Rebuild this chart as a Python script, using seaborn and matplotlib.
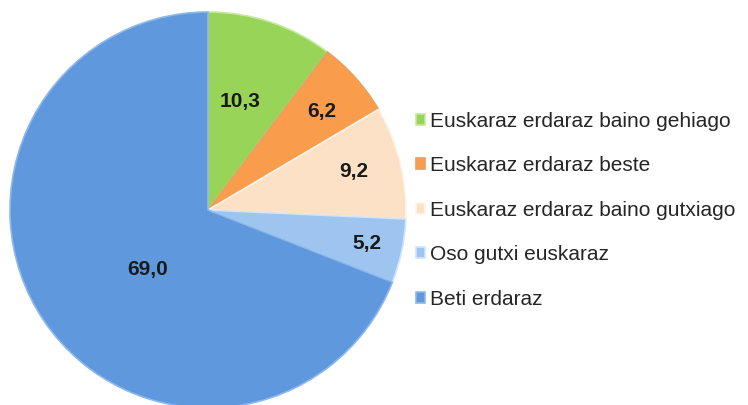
import numpy as np
import seaborn as sns
import matplotlib.pyplot as plt

categories = ["Euskaraz erdaraz baino gehiago", "Euskaraz erdaraz beste",
              "Euskaraz erdaraz baino gutxiago", "Oso gutxi euskaraz", "Beti erdaraz"]
values = [10.3, 6.2, 9.2, 5.2, 69.0]
value_labels = ["10,3", "6,2", "9,2", "5,2", "69,0"]
colors = ["#98D458", "#F99C4C", "#FCE1C6", "#9EC4F0", "#5F98DD"]
edge_colors = ["#C4EA9A", "#E8A060", "#FFF4EA", "#D0E4FA", "#8DB8EC"]
# label placement tweaks (radius fraction, clockwise angle shift in degrees)
label_radius = [0.57, 0.76, 0.76, 0.82, 0.43]
label_shift = [-2, 1, -1, 0, -10.4]

sns.set_theme(style="white")
plt.rcParams['font.family'] = ['Liberation Sans', 'DejaVu Sans']

fig = plt.figure(figsize=(7.48, 4.05), dpi=100)
ax = fig.add_axes([10 / 748, -3 / 405, 396 / 748, 396 / 405])

wedges, _ = ax.pie(values, colors=colors, startangle=90, counterclock=False,
                   wedgeprops=dict(linewidth=1.2))
for w, ec in zip(wedges, edge_colors):
    w.set_edgecolor(ec)

for w, txt, r, s in zip(wedges, value_labels, label_radius, label_shift):
    mid = np.deg2rad((w.theta1 + w.theta2) / 2 - s)
    ax.text(r * np.cos(mid), r * np.sin(mid), txt, ha="center", va="center",
            fontsize=15, fontweight="bold", color="#1a1a1a")
ax.set_aspect("equal")
ax.set_xlim(-1.0, 1.0)
ax.set_ylim(-1.0, 1.0)
ax.axis("off")

fig.legend(wedges, categories, loc="center left", bbox_to_anchor=(416 / 748, 0.481),
           frameon=False, fontsize=15, handlelength=0.45, handleheight=0.45,
           handletextpad=0.2, labelspacing=1.22, borderpad=0, borderaxespad=0)

fig.savefig("out.png", dpi=100, facecolor="white")
